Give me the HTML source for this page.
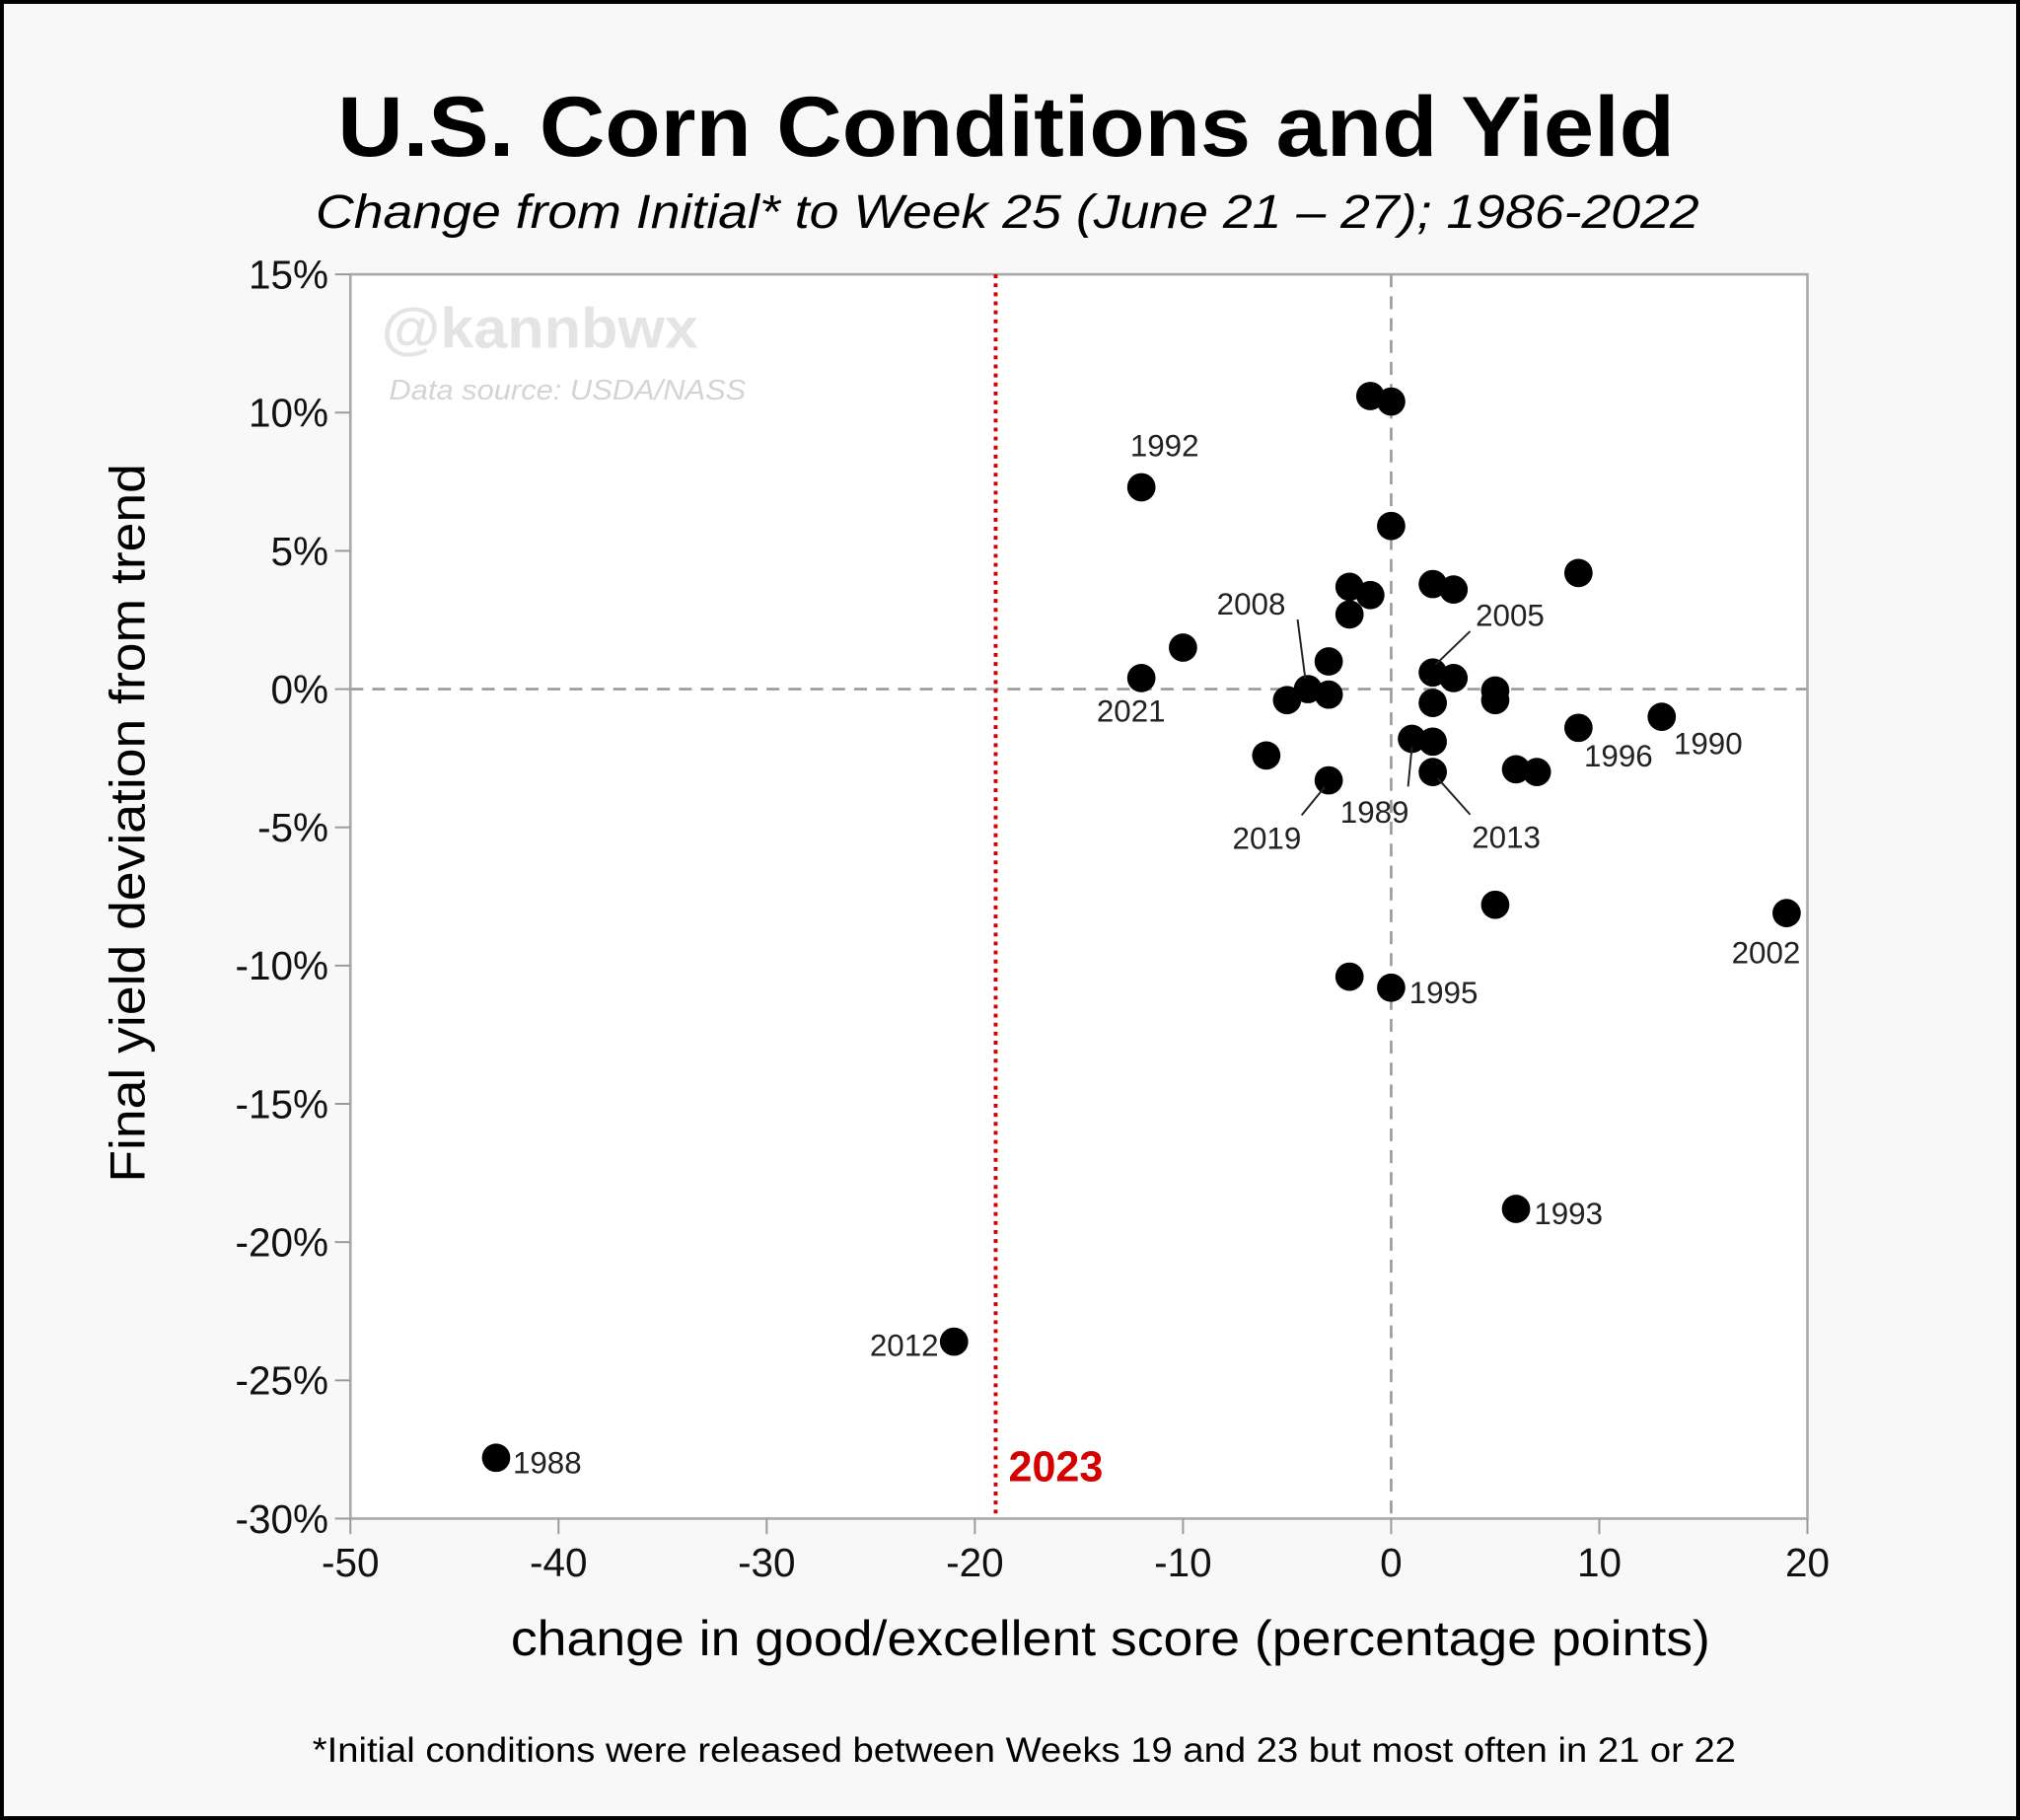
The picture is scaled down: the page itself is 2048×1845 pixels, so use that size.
<!DOCTYPE html>
<html><head><meta charset="utf-8">
<style>
html,body{margin:0;padding:0;background:#f8f8f8;}
svg{display:block;}
text{font-family:"Liberation Sans",sans-serif;}
</style></head>
<body>
<svg id="chart" width="2048" height="1845" viewBox="0 0 1568 1413" preserveAspectRatio="none" xmlns="http://www.w3.org/2000/svg">
<rect x="0" y="0" width="1568" height="1413" fill="#f8f8f8"/>
<rect x="1.5" y="1.5" width="1565" height="1410" fill="none" stroke="#000" stroke-width="3"/>
<text x="781" y="121" text-anchor="middle" font-size="66" font-weight="bold" fill="#000" textLength="1038" lengthAdjust="spacingAndGlyphs">U.S. Corn Conditions and Yield</text>
<text x="782" y="177" text-anchor="middle" font-size="37" font-style="italic" fill="#000" textLength="1074" lengthAdjust="spacingAndGlyphs">Change from Initial* to Week 25 (June 21 – 27); 1986-2022</text>
<rect x="272" y="213" width="1131" height="966" fill="#fff"/>
<text x="296" y="270" font-size="44" font-weight="bold" fill="#e4e4e4" textLength="246" lengthAdjust="spacingAndGlyphs">@kannbwx</text>
<text x="302" y="310" font-size="22" font-style="italic" fill="#d4d4d4" textLength="277" lengthAdjust="spacingAndGlyphs">Data source: USDA/NASS</text>
<g id="axes"></g>
<g id="marks"></g>
<text transform="translate(112,639) rotate(-90)" text-anchor="middle" font-size="38" fill="#000" textLength="558" lengthAdjust="spacingAndGlyphs">Final yield deviation from trend</text>
<text x="862" y="1285" text-anchor="middle" font-size="38" fill="#000" textLength="931" lengthAdjust="spacingAndGlyphs">change in good/excellent score (percentage points)</text>
<text x="795" y="1368" text-anchor="middle" font-size="27" fill="#000" textLength="1105" lengthAdjust="spacingAndGlyphs">*Initial conditions were released between Weeks 19 and 23 but most often in 21 or 22</text>
</svg>
<script>
const years = [1986,1987,1988,1989,1990,1991,1992,1993,1994,1995,1996,1997,1998,1999,2000,2001,2002,2003,2004,2005,2006,2007,2008,2009,2010,2011,2012,2013,2014,2015,2016,2017,2018,2019,2020,2021,2022];
const changeScore = [-1,0,-43,1,13,-2,-12,6,0,0,9,-1,2,3,-2,-10,19,-3,9,2,3,5,-4,-5,-3,5,-21,2,6,7,5,-6,-2,-3,2,-12,2];
const yieldDev = [10.6,10.4,-27.8,-1.8,-1.0,3.7,7.3,-18.8,5.9,-10.8,-1.4,3.4,3.8,3.6,2.7,1.5,-8.1,1.0,4.2,0.6,0.4,-0.05,0.0,-0.4,-0.2,-0.4,-23.6,-3.0,-2.9,-3.0,-7.8,-2.4,-10.4,-3.3,-0.5,0.4,-1.9];
const labeledYears = [1992,2021,2008,2005,1996,1990,1989,2019,2013,2002,1995,1993,2012,1988];
const xTicks = [-50,-40,-30,-20,-10,0,10,20];
const yTicks = [15,10,5,0,-5,-10,-15,-20,-25,-30];
const marker2023 = -19;

const labelStyle = {
  1992:{dx:18,dy:-24,a:'middle'}, 2021:{dx:-8,dy:34,a:'middle'},
  2008:{dx:-44,dy:-58,a:'middle',lx1:-8,ly1:-54,lx2:-2,ly2:-8},
  2005:{dx:60,dy:-36,a:'middle',lx1:29,ly1:-32,lx2:2,ly2:-6},
  1996:{dx:31,dy:30,a:'middle'}, 1990:{dx:36,dy:29,a:'middle'},
  1989:{dx:-29,dy:65,a:'middle',lx1:-3,ly1:37,lx2:0,ly2:6},
  2019:{dx:-48,dy:53,a:'middle',lx1:-21,ly1:27,lx2:-3,ly2:5},
  2013:{dx:57,dy:59,a:'middle',lx1:29,ly1:33,lx2:4,ly2:5},
  2002:{dx:-16,dy:39,a:'middle'}, 1995:{dx:14,dy:12,a:'start'},
  1993:{dx:14,dy:12,a:'start'}, 2012:{dx:-12,dy:11,a:'end'}, 1988:{dx:13,dy:12,a:'start'}
};

const L=272,R=1403,T=213,B=1179;
const X = v => L + (v - (-50)) / 70 * (R - L);
const Y = v => T + (15 - v) / 45 * (B - T);
const NS='http://www.w3.org/2000/svg';
function mk(tag, attrs, parent, txt){
  const e=document.createElementNS(NS,tag);
  for(const k in attrs) e.setAttribute(k,attrs[k]);
  if(txt!==undefined) e.textContent=txt;
  parent.appendChild(e); return e;
}
const axes=document.getElementById('axes');
const marks=document.getElementById('marks');

let zx=mk('line',{x1:X(0),x2:X(0),y1:T,y2:B,stroke:'#999','stroke-width':2,'stroke-dasharray':'10,7'},axes);


let zy=mk('line',{x1:L,x2:R,y1:Y(0),y2:Y(0),stroke:'#999','stroke-width':2,'stroke-dasharray':'10,7'},axes);



let fr=mk('rect',{x:L,y:T,width:R-L,height:B-T,fill:'none',stroke:'#aaa','stroke-width':2},axes);



xTicks.forEach(t=>{
  const tk=mk('line',{x1:X(t),x2:X(t),y1:B,y2:B+12,stroke:'#999','stroke-width':1.5},axes);
  
  
  const lb=mk('text',{x:X(t),y:B+45,'text-anchor':'middle','font-size':31,fill:'#111'},axes,String(t));
  
  
});
yTicks.forEach(t=>{
  const tk=mk('line',{x1:L-12,x2:L,y1:Y(t),y2:Y(t),stroke:'#999','stroke-width':1.5},axes);
  
  
  const lb=mk('text',{x:L-17,y:Y(t)+11,'text-anchor':'end','font-size':31,fill:'#111'},axes,t+'%');
  
  
});

let rl=mk('line',{x1:X(marker2023),x2:X(marker2023),y1:T,y2:B,stroke:'#d40000','stroke-width':3,'stroke-dasharray':'3,4'},marks);


let rt=mk('text',{x:X(marker2023)+10,y:B-29,'font-size':33,'font-weight':'bold',fill:'#d40000'},marks,'2023');



years.forEach((yr,i)=>{
  const cx=X(changeScore[i]), cy=Y(yieldDev[i]);
  const c=mk('circle',{cx:cx,cy:cy,r:11,fill:'#000'},marks);
  
  
  if(labeledYears.includes(yr)){
    const s=labelStyle[yr]||{dx:14,dy:10,a:'start'};
    if(s.lx1!==undefined){
      const ln=mk('line',{x1:cx+s.lx1,y1:cy+s.ly1,x2:cx+s.lx2,y2:cy+s.ly2,stroke:'#222','stroke-width':1.5},marks);
      
      
    }
    const t=mk('text',{x:cx+s.dx,y:cy+s.dy,'text-anchor':s.a,'font-size':24,fill:'#222'},marks,String(yr));
    
    
  }
});
</script>
</body></html>
